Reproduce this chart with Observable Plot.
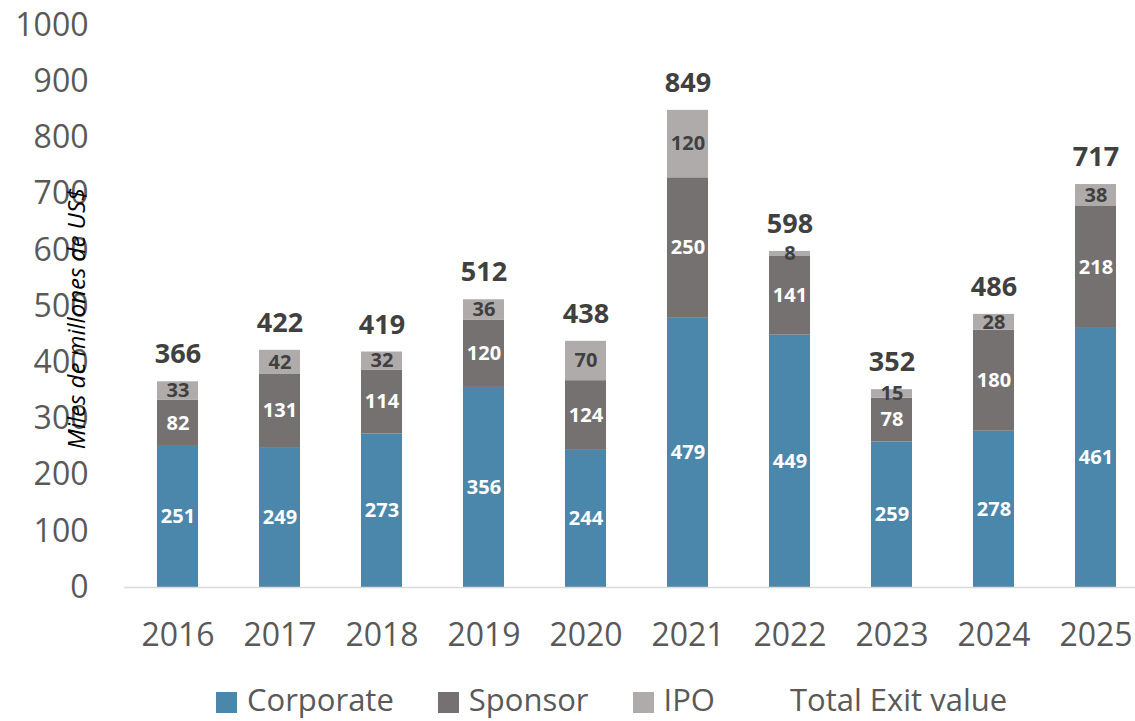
<!DOCTYPE html>
<html>
<head>
<meta charset="utf-8">
<script src="https://cdn.jsdelivr.net/npm/d3@7"></script>
<script src="https://cdn.jsdelivr.net/npm/@observablehq/plot@0.6"></script>
<style>
  html, body { margin: 0; padding: 0; background: #fff; }
  body { width: 1135px; height: 721px; position: relative; overflow: hidden; font-family: "Open Sans", sans-serif; }
  #legend { position: absolute; top: 683px; left: 216px; display: flex; align-items: center; height: 32px; }
  .item { display: flex; align-items: center; margin-right: 44px; height: 32px; }
  .sw { width: 21px; height: 21px; margin-right: 10px; margin-top: 6px; }
  .lab { font-size: 31px; color: #595959; line-height: 32px; height: 32px; }
</style>
</head>
<body>
<div id="chart"></div>
<div id="legend"></div>
<script>
const years = ["2016","2017","2018","2019","2020","2021","2022","2023","2024","2025"];
const corporate = [251, 249, 273, 356, 244, 479, 449, 259, 278, 461];
const sponsor   = [82, 131, 114, 120, 124, 250, 141, 78, 180, 218];
const ipo       = [33, 42, 32, 36, 70, 120, 8, 15, 28, 38];
const totals    = [366, 422, 419, 512, 438, 849, 598, 352, 486, 717];
const seriesNames = ["Corporate", "Sponsor", "IPO"];
const seriesColors = ["#4b87aa", "#757171", "#afabab"];
const labelColors = ["#ffffff", "#ffffff", "#404040"];
const yTicks = [0, 100, 200, 300, 400, 500, 600, 700, 800, 900, 1000];
const yLabel = "Miles de millones de US$";
const totalLegend = "Total Exit value";

const seriesValues = [corporate, sponsor, ipo];
const rows = [];
years.forEach((yr, i) => {
  seriesNames.forEach((s, j) => rows.push({year: yr, series: s, value: seriesValues[j][i]}));
});
const totalRows = years.map((yr, i) => ({year: yr, total: totals[i]}));

const stackOpts = {x: "year", y: "value", z: "series"};
const labelMarks = seriesNames.map((s, j) =>
  Plot.text(rows, Plot.filter(d => d.series === s, Plot.stackY({
    ...stackOpts,
    text: d => String(d.value),
    fill: labelColors[j],
    fontSize: 20,
    fontWeight: "bold"
  })))
);

const chart = Plot.plot({
  width: 1135,
  height: 670,
  marginTop: 25,
  marginBottom: 83,
  marginLeft: 124,
  marginRight: 0,
  style: {fontFamily: "Open Sans, sans-serif", background: "#fff"},
  x: {type: "band", domain: years, range: [124, 1149], paddingInner: 0.6, paddingOuter: 0.3, label: null},
  y: {domain: [0, 1000], label: null},
  color: {domain: seriesNames, range: seriesColors},
  marks: [
    Plot.barY(rows, Plot.stackY({...stackOpts, fill: "series"})),
    Plot.ruleY([0], {stroke: "#d9d9d9", strokeWidth: 1.5}),
    ...labelMarks,
    Plot.text(totalRows, {x: "year", y: "total", text: d => String(d.total), dy: -27, fontSize: 27, fontWeight: "bold", fill: "#404040"}),
    Plot.axisY({ticks: yTicks, tickFormat: d => String(d), tickSize: 0, tickPadding: 36, fontSize: 32, color: "#595959", label: null}),
    Plot.axisX({tickSize: 0, tickPadding: 36, fontSize: 32, color: "#595959", label: null}),
    Plot.text([yLabel], {text: d => d, frameAnchor: "left", textAnchor: "middle", rotate: -90, dx: -47, dy: 12, fontSize: 24, fontStyle: "italic", fill: "#000"})
  ]
});
document.getElementById("chart").appendChild(chart);

const legend = document.getElementById("legend");
seriesNames.concat([totalLegend]).forEach((name, j) => {
  const item = document.createElement("div");
  item.className = "item";
  const sw = document.createElement("span");
  sw.className = "sw";
  sw.style.background = j < seriesColors.length ? seriesColors[j] : "transparent";
  const lab = document.createElement("span");
  lab.className = "lab";
  lab.textContent = name;
  item.appendChild(sw);
  item.appendChild(lab);
  legend.appendChild(item);
});
</script>
</body>
</html>
